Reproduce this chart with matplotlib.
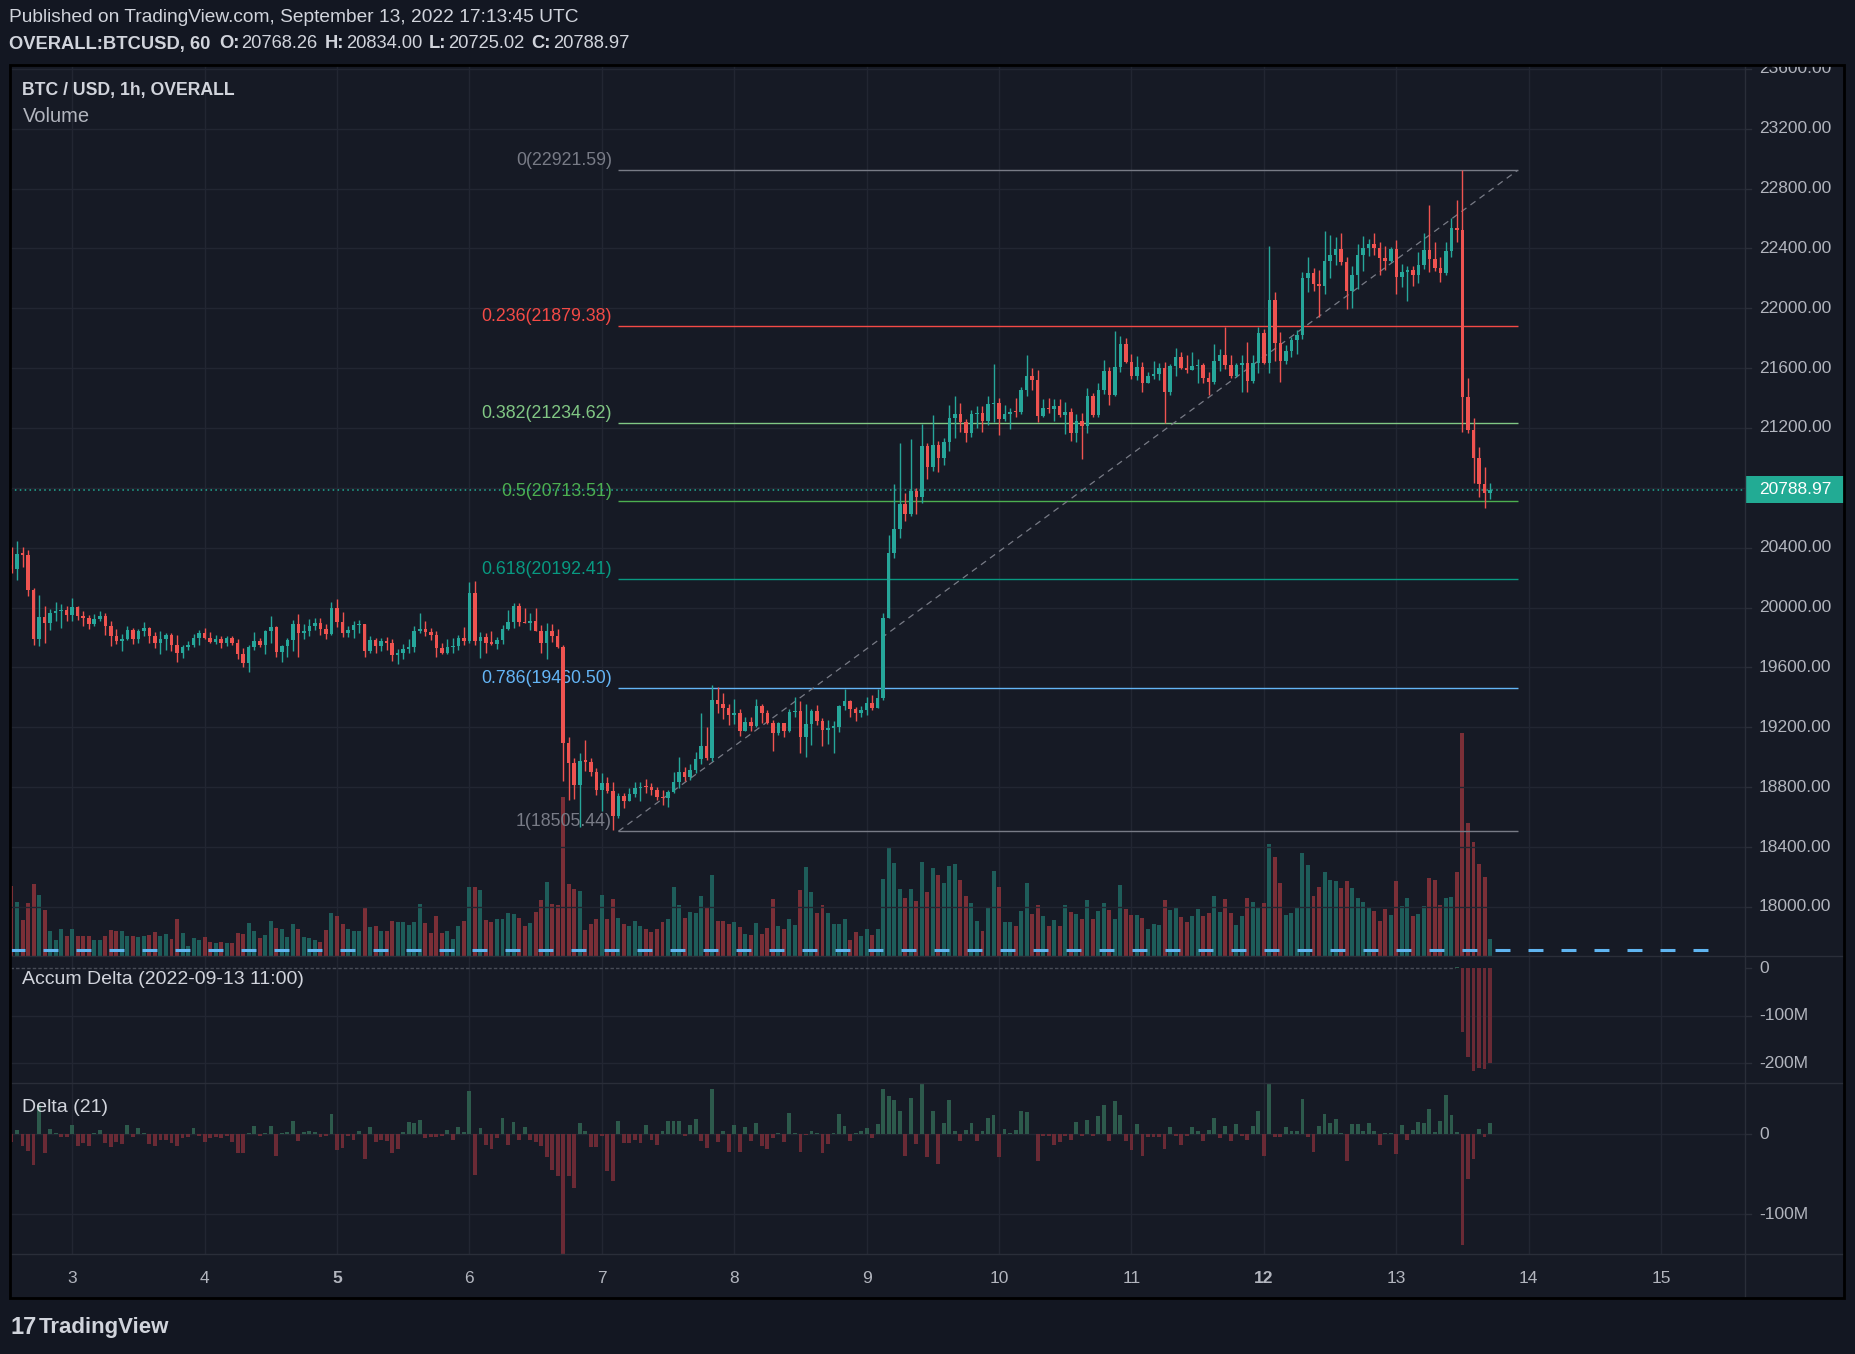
import numpy as np
import matplotlib
matplotlib.use("Agg")
import matplotlib.pyplot as plt
from matplotlib.lines import Line2D
from matplotlib.patches import Rectangle

plt.rcParams["font.family"] = ["Liberation Sans", "DejaVu Sans"]

# hourly candles, 2022-09-02 13:00 .. 2022-09-13 17:00 UTC
first_open = 20285
closes = [
    20258, 20358, 20354, 20118, 19791, 19938, 19900, 19964, 19978, 19984,
    19951, 20004, 19944, 19931, 19893, 19924, 19944, 19880, 19811, 19777,
    19791, 19851, 19791, 19844, 19864, 19811, 19764, 19791, 19817, 19751,
    19697, 19737, 19751, 19797, 19831, 19797, 19771, 19791, 19764, 19797,
    19764, 19690, 19630, 19737, 19777, 19751, 19844, 19871, 19704, 19744,
    19784, 19891, 19831, 19844, 19877, 19898, 19857, 19824, 19998, 19904,
    19831, 19851, 19884, 19891, 19710, 19784, 19744, 19777, 19764, 19684,
    19697, 19724, 19737, 19846, 19857, 19835, 19817, 19733, 19699, 19735,
    19744, 19800, 19777, 20100, 19777, 19802, 19766, 19760, 19784, 19855,
    19906, 20011, 19905, 19898, 19911, 19846, 19766, 19844, 19811, 19735,
    19098, 18960, 18815, 18976, 18971, 18904, 18782, 18831, 18778, 18608,
    18742, 18711, 18755, 18793, 18804, 18800, 18782, 18733, 18728, 18771,
    18838, 18904, 18867, 18916, 18987, 19076, 18994, 19383, 19356, 19332,
    19283, 19294, 19178, 19234, 19210, 19345, 19294, 19227, 19161, 19227,
    19178, 19301, 19310, 19138, 19223, 19310, 19245, 19183, 19198, 19200,
    19343, 19376, 19325, 19299, 19316, 19361, 19327, 19399, 19929, 20363,
    20523, 20692, 20626, 20779, 20741, 21080, 20937, 21087, 21002, 21104,
    21269, 21294, 21242, 21165, 21294, 21297, 21249, 21361, 21369, 21258,
    21294, 21309, 21305, 21454, 21548, 21521, 21283, 21332, 21325, 21347,
    21287, 21305, 21169, 21247, 21216, 21414, 21287, 21454, 21581, 21421,
    21605, 21761, 21643, 21548, 21605, 21503, 21548, 21561, 21601, 21443,
    21614, 21672, 21603, 21588, 21614, 21621, 21536, 21510, 21648, 21688,
    21621, 21550, 21621, 21632, 21516, 21632, 21837, 21632, 22055, 21766,
    21650, 21715, 21788, 21821, 22204, 22238, 22162, 22151, 22316, 22356,
    22396, 22309, 22118, 22222, 22356, 22402, 22429, 22402, 22338, 22316,
    22396, 22209, 22242, 22256, 22222, 22289, 22389, 22331, 22269, 22235,
    22382, 22536, 22523, 21407, 21187, 21000, 20826, 20768.26, 20788.97,
]
highs = [
    20407, 20445, 20403, 20385, 20131, 20085, 20011, 19991, 20038, 20024,
    20011, 20062, 20011, 19978, 19951, 19958, 19978, 19964, 19911, 19857,
    19824, 19877, 19864, 19857, 19904, 19871, 19837, 19844, 19831, 19831,
    19817, 19751, 19777, 19824, 19851, 19864, 19837, 19817, 19811, 19811,
    19811, 19791, 19730, 19751, 19837, 19797, 19851, 19944, 19877, 19751,
    19797, 19918, 19958, 19891, 19924, 19931, 19931, 19891, 20038, 20058,
    19971, 19877, 19911, 19918, 19891, 19811, 19797, 19797, 19804, 19791,
    19724, 19757, 19788, 19877, 19967, 19911, 19862, 19846, 19762, 19788,
    19795, 19817, 19873, 20174, 20178, 19835, 19828, 19846, 19806, 19884,
    19984, 20033, 20029, 19996, 19962, 20000, 19884, 19895, 19889, 19855,
    19751, 19138, 18994, 19027, 19116, 18998, 18927, 18893, 18871, 18838,
    18760, 18760, 18793, 18838, 18838, 18853, 18831, 18804, 18782, 18782,
    18904, 19005, 18938, 18956, 19038, 19294, 19205, 19483, 19468, 19432,
    19356, 19388, 19321, 19272, 19267, 19388, 19356, 19316, 19250, 19238,
    19232, 19321, 19405, 19379, 19356, 19321, 19350, 19265, 19250, 19245,
    19350, 19457, 19383, 19334, 19343, 19405, 19417, 19457, 19967, 20485,
    20826, 21098, 20764, 21127, 20799, 21227, 21098, 21287, 21113, 21131,
    21354, 21414, 21369, 21258, 21320, 21347, 21347, 21414, 21628, 21398,
    21354, 21332, 21398, 21476, 21688, 21599, 21588, 21392, 21398, 21392,
    21392, 21376, 21332, 21291, 21298, 21465, 21432, 21498, 21654, 21605,
    21848, 21817, 21804, 21694, 21681, 21639, 21576, 21648, 21632, 21639,
    21628, 21732, 21706, 21688, 21708, 21659, 21632, 21572, 21761, 21726,
    21877, 21688, 21632, 21688, 21775, 21688, 21877, 21864, 22416, 22106,
    21841, 21755, 21806, 21855, 22242, 22342, 22267, 22256, 22516, 22489,
    22474, 22503, 22345, 22282, 22429, 22483, 22463, 22503, 22443, 22416,
    22409, 22456, 22296, 22282, 22282, 22376, 22503, 22690, 22443, 22342,
    22443, 22603, 22723, 22921.59, 21534, 21267, 21073, 20940, 20834.00,
]
lows = [
    20234, 20185, 20274, 20080, 19751, 19744, 19766, 19853, 19911, 19866,
    19913, 19913, 19918, 19877, 19860, 19877, 19911, 19817, 19744, 19757,
    19710, 19784, 19757, 19764, 19811, 19764, 19731, 19690, 19717, 19710,
    19637, 19664, 19717, 19737, 19751, 19791, 19764, 19757, 19731, 19744,
    19751, 19657, 19604, 19570, 19717, 19737, 19690, 19764, 19670, 19637,
    19670, 19710, 19670, 19791, 19811, 19851, 19817, 19791, 19817, 19871,
    19804, 19804, 19797, 19831, 19670, 19697, 19697, 19710, 19717, 19644,
    19624, 19657, 19699, 19706, 19829, 19813, 19784, 19668, 19688, 19688,
    19695, 19717, 19751, 19762, 19751, 19666, 19695, 19751, 19722, 19755,
    19851, 19862, 19880, 19895, 19851, 19844, 19695, 19655, 19773, 19733,
    18844, 18715, 18720, 18537, 18911, 18875, 18749, 18644, 18764, 18515,
    18593, 18660, 18711, 18738, 18711, 18760, 18749, 18715, 18682, 18666,
    18760, 18793, 18844, 18849, 18893, 18956, 18982, 18978, 19299, 19254,
    19216, 19223, 19143, 19183, 19178, 19205, 19227, 19220, 19045, 19149,
    19138, 19172, 19272, 19031, 19005, 19083, 19216, 19076, 19089, 19031,
    19172, 19316, 19272, 19245, 19272, 19283, 19316, 19327, 19383, 19940,
    20330, 20463, 20581, 20612, 20626, 20701, 20859, 20915, 20908, 20953,
    21049, 21136, 21171, 21109, 21142, 21202, 21176, 21220, 21242, 21153,
    21249, 21191, 21276, 21291, 21414, 21454, 21242, 21276, 21298, 21249,
    21276, 21160, 21116, 21109, 20993, 21169, 21276, 21271, 21427, 21354,
    21414, 21576, 21632, 21527, 21521, 21443, 21498, 21527, 21521, 21231,
    21421, 21547, 21592, 21565, 21588, 21498, 21503, 21421, 21492, 21583,
    21592, 21536, 21539, 21443, 21443, 21498, 21570, 21628, 21565, 21650,
    21505, 21625, 21672, 21692, 21797, 22111, 22118, 21944, 22095, 22200,
    22289, 22289, 21997, 22004, 22131, 22249, 22349, 22356, 22222, 22256,
    22309, 22095, 22142, 22048, 22149, 22169, 22262, 22242, 22249, 22175,
    22222, 22342, 22443, 21173, 21167, 20833, 20739, 20666, 20725.02,
]
# volume (relative units)
volumes = [
    211, 163, 109, 160, 217, 184, 139, 76, 49, 82,
    61, 82, 61, 61, 61, 49, 49, 61, 79, 76,
    76, 61, 61, 58, 61, 64, 73, 61, 67, 52,
    112, 70, 31, 55, 49, 58, 43, 40, 43, 40,
    40, 70, 67, 100, 76, 55, 64, 106, 85, 82,
    58, 97, 82, 58, 55, 49, 43, 79, 130, 121,
    97, 82, 76, 76, 145, 88, 91, 76, 76, 106,
    103, 103, 94, 103, 157, 100, 70, 121, 70, 76,
    52, 91, 106, 208, 208, 199, 109, 103, 112, 112,
    130, 127, 115, 91, 100, 133, 169, 223, 157, 152,
    477, 217, 202, 196, 79, 97, 112, 184, 112, 172,
    115, 97, 91, 106, 91, 82, 73, 82, 103, 112,
    208, 154, 115, 133, 130, 181, 148, 244, 106, 106,
    97, 103, 88, 67, 64, 100, 66, 84, 171, 90,
    81, 111, 93, 198, 267, 192, 129, 153, 129, 96,
    96, 111, 48, 72, 60, 81, 63, 81, 231, 324,
    279, 201, 174, 201, 165, 282, 192, 264, 243, 219,
    270, 276, 228, 180, 159, 105, 75, 147, 255, 207,
    102, 102, 90, 135, 219, 126, 153, 120, 90, 108,
    90, 153, 132, 126, 111, 168, 111, 135, 159, 138,
    110, 213, 141, 123, 123, 114, 81, 96, 93, 168,
    138, 147, 117, 102, 120, 141, 120, 129, 180, 132,
    171, 129, 93, 120, 174, 162, 144, 159, 336, 297,
    219, 123, 129, 144, 309, 273, 180, 207, 252, 228,
    225, 204, 225, 204, 174, 162, 144, 135, 105, 141,
    123, 225, 150, 174, 120, 126, 150, 234, 228, 153,
    174, 177, 252, 669, 399, 342, 276, 237, 51,
]
# Delta (21), millions
deltas = [
    -10, 5, -15, -21, -38, 36, -24, 6, 1, -3,
    -3, 12, -15, -11, -15, 1, 5, -11, -16, -10,
    -12, 12, -3, 8, 1, -12, -15, -7, -7, -11,
    -15, -5, -3, 8, -2, -10, -5, -3, -5, -2,
    -10, -24, -24, 2, 10, -2, 2, 10, -27, 2,
    3, 17, -8, 3, 4, 3, -3, -2, 25, -20,
    -17, -2, -7, 4, -31, 9, -10, -7, -8, -23,
    -18, 3, 15, 14, 18, -5, -3, -3, -2, 5,
    -7, 9, 3, 54, -51, 8, -14, -18, -5, 20,
    -14, 15, -7, 9, -7, -10, -15, -28, -45, -52,
    -151, -52, -67, 14, 4, -16, -16, -2, -46, -58,
    16, -11, -11, -7, -11, 11, -7, -14, 4, 16,
    16, 16, -2, 11, 19, -9, -17, 57, -10, 4,
    -22, 12, -22, 9, -8, 14, -15, -19, -5, 2,
    -10, 27, 1, -22, -1, 4, 1, -23, -12, 1,
    25, 10, -8, 1, 4, 8, -5, 13, 57, 48,
    43, 29, -27, 45, -12, 63, -28, 29, -37, 14,
    43, 4, -9, 5, 14, -9, 4, 20, 24, -28,
    7, 2, 5, 29, 28, 0.5, -34, -2, -2, -13,
    -10, -2, -7, 15, -2, 18, -2, 23, 37, -8,
    42, 24, -9, -20, 13, -27, -4, -3, -3, -19,
    9, -2, -14, -2, 9, 4, -8, 5, 20, -5,
    10, -8, 13, -2, -7, 10, 29, -27, 63, -3,
    -3, 9, 4, 4, 44, -3, -22, 10, 25, 14,
    19, 2, -34, 13, 13, 4, 14, 4, -13, 2,
    2, -25, 12, -7, 5, 15, 14, 32, 3, 17,
    49, 24, 3, -138, -56, -31, 7, -3, 14,
]
# Accum Delta from 2022-09-13 11:00 (bar 262), millions
accum_start = 262
accum_delta = [3, -134, -187, -216, -211, -213, -199]

day_labels = ["3", "4", "5", "6", "7", "8", "9", "10", "11", "12", "13", "14", "15"]
bold_days = ["5", "12"]
first_day_bar = 11  # Sep 3 00:00

fib_levels = ["0", "0.236", "0.382", "0.5", "0.618", "0.786", "1"]
fib_prices = [22921.59, 21879.38, 21234.62, 20713.51, 20192.41, 19460.50, 18505.44]
fib_colors = ["#787b86", "#f44a46", "#81c784", "#4caf50", "#089981", "#64b5f6", "#787b86"]
fib_start_bar, fib_end_bar = 110, 273

last_price = 20788.97
price_ticks = list(range(18000, 23601, 400))

# colours
BG = "#131722"
PANE = "#161a25"
GRID = "#222632"
SEP = "#2a2e39"
TXT = "#d1d4dc"
AXTXT = "#b2b5be"
UP, DOWN = "#26a69a", "#ef5350"
VOL_UP, VOL_DN = "#1e5d5a", "#7b2f37"
D_UP, D_DN = "#2d5a4c", "#6a2a35"

# layout in pixels
W, H = 1856, 1354
LEFT, PLOT_R, FRAME_R = 10, 1745, 1844
TOP, MAIN_B, ACC_B, DEL_B, FRAME_B = 65, 956, 1083, 1254, 1298
BAR0_PX, BAR_PX = 11.5, 5.517
XLIM = ((LEFT - BAR0_PX) / BAR_PX, (PLOT_R - BAR0_PX) / BAR_PX)
LABEL_X = 22.5

fig = plt.figure(figsize=(W / 100, H / 100), dpi=100, facecolor=BG)


def panel(x0, y0, x1, y1):
    a = fig.add_axes([x0 / W, 1 - y1 / H, (x1 - x0) / W, (y1 - y0) / H])
    a.patch.set_visible(False)
    for s in a.spines.values():
        s.set_visible(False)
    a.set_xticks([])
    a.set_yticks([])
    return a


def fig_line(xs, ys, color, lw=1.0, z=5):
    fig.add_artist(Line2D([v / W for v in xs], [1 - v / H for v in ys],
                          color=color, lw=lw, transform=fig.transFigure, zorder=z))


def pane_label(y, text, size=14, bold=False, color=TXT):
    fig.text(LABEL_X / W, 1 - y / H, text, fontsize=size, color=color, va="center",
             fontweight="bold" if bold else "normal", zorder=6)


fig.add_artist(Rectangle((LEFT / W, 1 - FRAME_B / H), (FRAME_R - LEFT) / W,
                         (FRAME_B - TOP) / H, transform=fig.transFigure,
                         facecolor=PANE, edgecolor="none", zorder=-5))

n = len(closes)
x = np.arange(n)
c = np.array(closes, dtype=float)
o = np.array([first_open] + closes[:-1], dtype=float)
hi = np.maximum(np.array(highs, dtype=float), np.maximum(o, c))
lo = np.minimum(np.array(lows, dtype=float), np.minimum(o, c))
up = c >= o
day_x = [first_day_bar + 24 * k for k in range(len(day_labels))]

# volume layer (behind candles)
vax = panel(LEFT, TOP, PLOT_R, MAIN_B)
vax.set_xlim(*XLIM)
vax.set_ylim(0, (MAIN_B - TOP) * 3)
for d in day_x:
    vax.axvline(d, color=GRID, lw=1, zorder=0)
vax.bar(x, volumes, width=0.72, color=np.where(up, VOL_UP, VOL_DN), linewidth=0, zorder=2)
vax.hlines(18, XLIM[0], 309.5, color="#5fb4f0", lw=2.2, ls=(0, (4.9, 5.9)), zorder=3)

# price layer
ax = panel(LEFT, TOP, PLOT_R, MAIN_B)
ax.set_xlim(*XLIM)
ax.set_ylim(17672.4, 23625.1)
for p in price_ticks:
    ax.axhline(p, color=GRID, lw=1, zorder=0)
ax.axhline(last_price, color="#22ab94", lw=1.1, ls=(0, (1, 2.2)), zorder=2)

for lvl, price, col in zip(fib_levels, fib_prices, fib_colors):
    ax.hlines(price, fib_start_bar, fib_end_bar, color=col, lw=1.0, zorder=1)
    ax.annotate(f"{lvl}({price:.2f})", xy=(fib_start_bar, price), xytext=(-4.5, 7),
                textcoords="offset points", ha="right", va="center",
                fontsize=12.8, color=col, zorder=1)
ax.plot([fib_start_bar, fib_end_bar], [fib_prices[-1], fib_prices[0]],
        color="#787b86", lw=0.9, ls=(0, (5, 4)), zorder=2)

cols = np.where(up, UP, DOWN)
ax.vlines(x, lo, hi, colors=cols, lw=1.0, zorder=3)
body = np.maximum(np.abs(c - o), 9)
ax.bar(x, body, bottom=np.minimum(o, c), width=0.64, color=cols, linewidth=0, zorder=4)

pane_label(90, "BTC / USD, 1h, OVERALL", size=12.7, bold=True)
pane_label(116, "Volume", size=14.5, color=AXTXT)

# accum delta pane
aax = panel(LEFT, MAIN_B, PLOT_R, ACC_B)
aax.set_xlim(*XLIM)
aax.set_ylim(-242, 26)
for d in day_x:
    aax.axvline(d, color=GRID, lw=1, zorder=0)
for g in (-100, -200):
    aax.axhline(g, color=GRID, lw=1, zorder=0)
aax.hlines(0, XLIM[0], accum_start - 0.4, color="#474b56", lw=1, ls=(0, (2.5, 1.5)), zorder=1)
acc_x = np.arange(accum_start, accum_start + len(accum_delta))
acc = np.array(accum_delta, dtype=float)
aax.bar(acc_x, acc, width=0.62, color=np.where(acc >= 0, D_UP, D_DN), linewidth=0, zorder=2)
pane_label(980, "Accum Delta (2022-09-13 11:00)")

# delta pane
dax = panel(LEFT, ACC_B, PLOT_R, DEL_B)
dax.set_xlim(*XLIM)
dax.set_ylim(-149.6, 64.1)
for d in day_x:
    dax.axvline(d, color=GRID, lw=1, zorder=0)
for g in (0, -100):
    dax.axhline(g, color=GRID, lw=1, zorder=0)
dl = np.array(deltas, dtype=float)
dax.bar(x, dl, width=0.7, color=np.where(dl >= 0, D_UP, D_DN), linewidth=0, zorder=2)
pane_label(1108, "Delta (21)")

# time axis
tax = panel(LEFT, DEL_B, PLOT_R, FRAME_B)
tax.set_xlim(*XLIM)
tax.set_ylim(0, 1)
for d, lab in zip(day_x, day_labels):
    tax.text(d, 0.45, lab, ha="center", va="center", fontsize=12.5, color=AXTXT,
             fontweight="bold" if lab in bold_days else "normal")


# right price scales
def scale(y0, y1, lim, ticks, labels):
    s = panel(PLOT_R, y0, FRAME_R, y1)
    s.set_xlim(0, FRAME_R - PLOT_R)
    s.set_ylim(*lim)
    for t, lab in zip(ticks, labels):
        s.plot([0, 6], [t, t], color=SEP, lw=1, clip_on=True)
        s.text(14, t, lab, fontsize=12.5, color=AXTXT, va="center", clip_on=True)
    return s


pax = scale(TOP, MAIN_B, ax.get_ylim(), price_ticks, [f"{p:.2f}" for p in price_ticks])
box_h = 27 / 0.14968
pax.add_patch(Rectangle((0, last_price - box_h / 2), FRAME_R - PLOT_R, box_h,
                        facecolor="#22ab94", edgecolor="none", zorder=4))
pax.text(14, last_price, f"{last_price:.2f}", fontsize=12.5, color="white",
         va="center", zorder=5)
scale(MAIN_B, ACC_B, aax.get_ylim(), [0, -100, -200], ["0", "-100M", "-200M"])
scale(ACC_B, DEL_B, dax.get_ylim(), [0, -100], ["0", "-100M"])

# separators and frame
fig_line([PLOT_R, PLOT_R], [TOP, FRAME_B], SEP)
for yy in (MAIN_B, ACC_B, DEL_B):
    fig_line([LEFT, FRAME_R], [yy, yy], SEP)
fig.add_artist(Rectangle((LEFT / W, 1 - FRAME_B / H), (FRAME_R - LEFT) / W,
                         (FRAME_B - TOP) / H, transform=fig.transFigure,
                         facecolor="none", edgecolor="black", lw=2.0, zorder=20))

# header
fig.text(9.5 / W, 1 - 18 / H, "Published on TradingView.com, September 13, 2022 17:13:45 UTC",
         fontsize=13.8, color=TXT, va="center")
renderer = fig.canvas.get_renderer()
pieces = [("OVERALL:BTCUSD, 60", True, 8), ("O:", True, 2), ("20768.26", False, 7),
          ("H:", True, 2), ("20834.00", False, 7), ("L:", True, 2),
          ("20725.02", False, 7), ("C:", True, 2), ("20788.97", False, 0)]
xp = 9.5
for txt, bold, gap in pieces:
    t = fig.text(xp / W, 1 - 44 / H, txt, fontsize=13.2, color=TXT, va="center",
                 fontweight="bold" if bold else "normal")
    xp = t.get_window_extent(renderer=renderer).x1 + gap

# logo
t = fig.text(10 / W, 1 - 1327 / H, "17", fontsize=17, fontweight="bold", color=TXT, va="center")
xl = t.get_window_extent(renderer=renderer).x1 + 3
fig.text(xl / W, 1 - 1327 / H, "TradingView", fontsize=16, fontweight="bold", color=TXT, va="center")

fig.savefig("out.png", dpi=100, facecolor=BG)
